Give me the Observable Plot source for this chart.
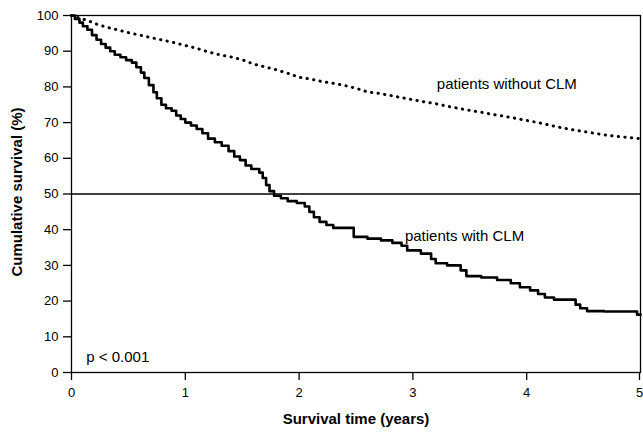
<!DOCTYPE html>
<html>
<head>
<meta charset="utf-8">
<script src="https://cdn.jsdelivr.net/npm/d3@7"></script>
<script src="https://cdn.jsdelivr.net/npm/@observablehq/plot@0.6"></script>
<style>
  html, body { margin: 0; padding: 0; background: #fff; }
  svg { font-family: "Liberation Sans", Arial, sans-serif; }
</style>
</head>
<body>
<div id="chart"></div>
<script>
// Survival time (years) and cumulative survival (%) — patients with CLM
const withTime = [0,0.03,0.07,0.1,0.14,0.18,0.22,0.26,0.3,0.34,0.38,0.43,0.48,0.53,0.57,0.61,0.64,0.68,0.72,0.75,0.79,0.83,0.88,0.92,0.96,1.0,1.05,1.1,1.15,1.2,1.26,1.32,1.38,1.43,1.48,1.53,1.58,1.65,1.68,1.71,1.74,1.78,1.84,1.9,1.98,2.05,2.09,2.13,2.18,2.24,2.3,2.48,2.6,2.72,2.82,2.9,2.95,3.07,3.16,3.2,3.3,3.42,3.47,3.6,3.74,3.86,3.94,4.03,4.1,4.16,4.24,4.43,4.47,4.53,4.68,4.97,5.0];
const withSurv = [100,99,98,97,96,94.5,93.2,92,91,90,89,88.3,87.5,86.8,85.5,84,82.5,80.5,78.5,76.8,75,74,73.3,72,71,70,69.2,68.2,67,65.5,64.5,63.5,62,60.5,59.5,58,57,56,54.5,52.5,50.8,49.5,48.8,48,47.5,46.5,45,43.5,42.2,41.3,40.5,38,37.5,37,36.3,35.5,34.2,33.3,31.8,30.6,30,28.6,27,26.6,25.9,25,23.9,23,22,21,20.4,19,18,17.2,17.1,16.2,16.2];

// patients without CLM
const withoutTime = [0,0.05,0.1,0.15,0.2,0.3,0.4,0.5,0.6,0.7,0.8,0.9,1.0,1.1,1.2,1.3,1.4,1.5,1.6,1.7,1.8,1.9,2.0,2.1,2.2,2.3,2.4,2.5,2.6,2.7,2.8,2.9,3.0,3.1,3.2,3.3,3.4,3.5,3.6,3.7,3.8,3.9,4.0,4.1,4.2,4.3,4.4,4.5,4.6,4.7,4.8,4.9,5.0];
const withoutSurv = [100,99.5,99,98.5,97.8,96.8,96,95.2,94.5,93.8,93.1,92.4,91.6,90.8,89.8,89,88.4,87.6,86.4,85.6,84.8,83.8,82.7,82.2,81.5,81,80.4,79.6,78.6,78.2,77.6,77,76.4,75.8,75.3,74.6,74,73.4,72.9,72.3,71.8,71.2,70.6,70,69.3,68.6,68,67.5,67,66.5,66.1,65.8,65.5];

const xTicks = [0,1,2,3,4,5];
const yTicks = [0,10,20,30,40,50,60,70,80,90,100];

const withData = withTime.map((t, i) => ({t, s: withSurv[i]}));
const withoutData = withoutTime.map((t, i) => ({t, s: withoutSurv[i]}));

const annotations = [
  {t: 3.21, s: 80.7, text: "patients without CLM"},
  {t: 2.93, s: 38.1, text: "patients with CLM"},
  {t: 0.13, s: 4.3, text: "p < 0.001"}
];

const axisOpts = {tickSize: 8, label: null, fontSize: 13, strokeWidth: 1.3, tickFormat: d3.format("d")};

const chart = Plot.plot({
  width: 643,
  height: 433,
  marginLeft: 71,
  marginRight: 3,
  marginTop: 15,
  marginBottom: 61,
  style: {fontFamily: "'Liberation Sans', Arial, sans-serif", fontSize: "13px", color: "black", background: "white"},
  x: {domain: [0, 5]},
  y: {domain: [0, 100]},
  marks: [
    Plot.axisY({...axisOpts, ticks: yTicks, tickPadding: 5}),
    Plot.axisX({...axisOpts, ticks: xTicks.slice(0, -1), tickPadding: 7}),
    Plot.axisX({...axisOpts, ticks: xTicks.slice(-1), tickPadding: 7, dx: -1}),
    Plot.frame({stroke: "black", strokeWidth: 1.3}),
    Plot.ruleY([50], {stroke: "black", strokeWidth: 1.3}),
    Plot.line(withoutData, {x: "t", y: "s", curve: "linear", stroke: "black", strokeWidth: 3, strokeLinecap: "round", strokeDasharray: "0.3,6.3"}),
    Plot.line(withData, {x: "t", y: "s", curve: "step-after", stroke: "black", strokeWidth: 2.6}),
    Plot.text(annotations, {x: "t", y: "s", text: "text", textAnchor: "start", fontSize: 15, fill: "black"}),
    Plot.text(["Cumulative survival (%)"], {frameAnchor: "left", textAnchor: "middle", lineAnchor: "middle", dx: -54, dy: -2, rotate: -90, fontSize: 15, fontWeight: "bold", fill: "black"}),
    Plot.text(["Survival time (years)"], {frameAnchor: "bottom", textAnchor: "middle", lineAnchor: "middle", dy: 47, fontSize: 15, fontWeight: "bold", fill: "black"})
  ]
});
document.getElementById("chart").appendChild(chart);
</script>
</body>
</html>
